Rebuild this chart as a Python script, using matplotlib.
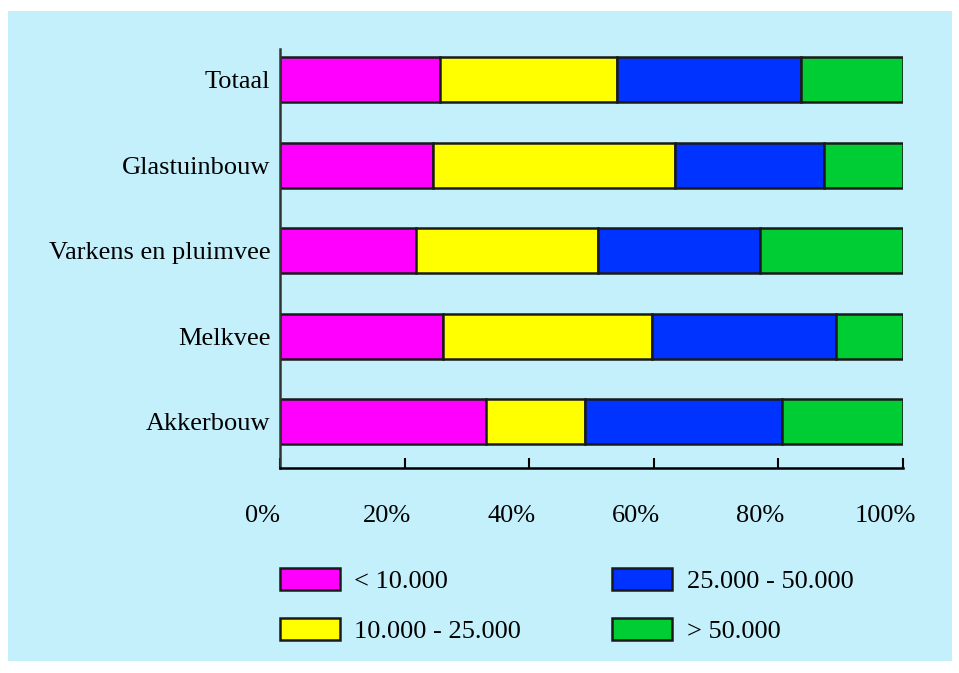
import numpy as np
import matplotlib
matplotlib.use('Agg')
import matplotlib.pyplot as plt
import matplotlib.transforms as mtransforms
from matplotlib.patches import Rectangle

categories = ['Akkerbouw', 'Melkvee', 'Varkens en pluimvee', 'Glastuinbouw', 'Totaal']
labels = ['< 10.000', '10.000 - 25.000', '25.000 - 50.000', '> 50.000']
colors = ['#ff00ff', '#ffff00', '#0033ff', '#00cc33']

# percentages per size class, same order as categories
lt10 = [33.1, 26.2, 21.8, 24.6, 25.7]
s10_25 = [15.9, 33.5, 29.2, 38.8, 28.4]
s25_50 = [31.6, 29.5, 26.0, 23.9, 29.5]
gt50 = [19.4, 10.8, 23.0, 12.7, 16.4]

series = [lt10, s10_25, s25_50, gt50]
ticks = [0, 20, 40, 60, 80, 100]

plt.rcParams['font.family'] = ['Liberation Serif', 'DejaVu Serif']
fs = 19

fig = plt.figure(figsize=(9.59, 6.73), dpi=100, facecolor='white')
bg = Rectangle((8 / 959, 12 / 673), 944 / 959, 650 / 673, transform=fig.transFigure,
               facecolor='#c4f0fc', edgecolor='none', zorder=-10)
fig.patches.append(bg)

ax = fig.add_axes([280 / 959, 1 - 468 / 673, 623 / 959, 419 / 673])
ax.set_facecolor('none')

y = np.arange(len(categories))
left = np.zeros(len(categories))
handles = []
for vals, lab, col in zip(series, labels, colors):
    b = ax.barh(y, vals, left=left, height=0.53, color=col, edgecolor='#1a1a1a',
                linewidth=1.8, label=lab)
    handles.append(b)
    left += np.array(vals)

ax.set_xlim(0, 100)
ax.set_ylim(-0.54, 4.36)
ax.set_yticks(y)
ax.set_yticklabels(categories, fontsize=fs)
ax.tick_params(axis='y', length=0, pad=7)
ax.set_xticks(ticks)
ax.set_xticklabels([f'{t}%' for t in ticks], fontsize=fs)
ax.tick_params(axis='x', direction='in', length=7, width=1.5, pad=27)
offset = mtransforms.ScaledTranslation(-18 / 100, 0, fig.dpi_scale_trans)
for lbl in ax.get_xticklabels():
    lbl.set_transform(lbl.get_transform() + offset)

for s in ['top', 'right']:
    ax.spines[s].set_visible(False)
ax.spines['left'].set_linewidth(1.8)
ax.spines['bottom'].set_linewidth(1.8)
ax.spines['left'].set_color('#333333')

leg = fig.legend(handles=handles, loc='upper left', bbox_to_anchor=(280 / 959, 1 - 568 / 673),
                 ncol=2, frameon=False, fontsize=fs, handlelength=2.27, handleheight=0.9,
                 handletextpad=0.55, labelspacing=0.95, columnspacing=3.45, borderpad=0,
                 borderaxespad=0)

fig.savefig('out.png', dpi=100, facecolor=fig.get_facecolor())
